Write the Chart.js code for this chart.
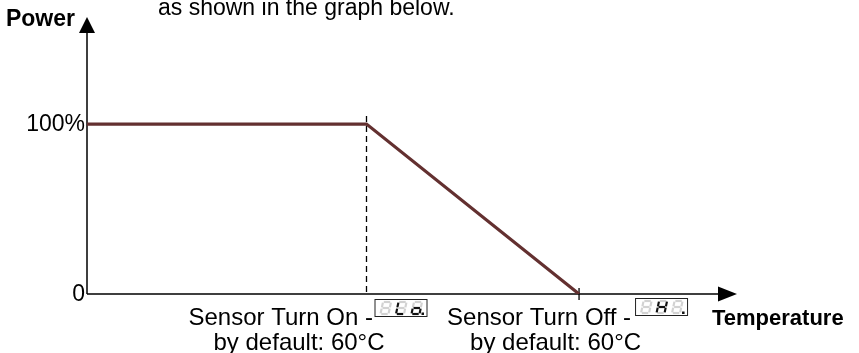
<!DOCTYPE html>
<html>
<head>
<meta charset="utf-8">
<script src="https://cdn.jsdelivr.net/npm/chart.js@4.4.1/dist/chart.umd.min.js"></script>
<style>
  html, body { margin: 0; padding: 0; background: #fff; }
  #wrap { position: relative; width: 859px; height: 353px; }
</style>
</head>
<body>
<div id="wrap"><canvas id="power-chart"></canvas></div>
<script>
// ─── Data ───────────────────────────────────────────────────

const temperature = [0, 43, 75.7];      // position along the temperature axis
const power = [100, 100, 0];            // % output
const yTickValues = [0, 100];
const yTickLabels = ['0', '100%'];
const turnOnAt = 43;
const turnOffAt = 75.7;
const turnOnLabel = ['Sensor Turn On - ', 'by default: 60°C'];
const turnOffLabel = ['Sensor Turn Off - ', 'by default: 60°C'];
const turnOnDisplay = ['', 'def', 'cdeg'];     // lit segments: _ L o
const turnOffDisplay = ['', 'bcefg', ''];      // lit segments: _ H _
const captionText = 'as shown in the graph below.';

const FONT = '"Liberation Sans", Arial, sans-serif';
const INK = '#000';

// ─── Helpers ────────────────────────────────────────────────

function drawDigit(ctx, x, y, lit, dot) {
  const w = 8, h = 12, s = 2.5;
  const P = {
    tl: [x + s, y], tr: [x + w + s, y],
    ml: [x + s / 2, y + h / 2], mr: [x + w + s / 2, y + h / 2],
    bl: [x, y + h], br: [x + w, y + h],
  };
  const segs = {
    a: ['tl', 'tr'], b: ['tr', 'mr'], c: ['mr', 'br'], d: ['bl', 'br'],
    e: ['ml', 'bl'], f: ['tl', 'ml'], g: ['ml', 'mr'],
  };
  ctx.lineCap = 'butt';
  ctx.lineWidth = 2.2;
  Object.entries(segs).forEach(([k, [p, q]]) => {
    const a = P[p], b = P[q];
    const dx = (b[0] - a[0]) * 0.1, dy = (b[1] - a[1]) * 0.1;
    ctx.strokeStyle = lit.includes(k) ? '#111' : '#d2d2d2';
    ctx.beginPath();
    ctx.moveTo(a[0] + dx, a[1] + dy);
    ctx.lineTo(b[0] - dx, b[1] - dy);
    ctx.stroke();
  });
  if (dot) {
    ctx.fillStyle = '#111';
    ctx.fillRect(x + w + 2, y + h - 1.5, 2.5, 2.5);
  }
}

function drawDisplay(ctx, x, y, digits) {
  ctx.strokeStyle = '#222';
  ctx.lineWidth = 1;
  ctx.strokeRect(x + 0.5, y + 0.5, 52, 17);
  digits.forEach((lit, i) => drawDigit(ctx, x + 6 + i * 15.5, y + 3, lit, i === 2));
}

// ─── Custom drawing plugin ──────────────────────────────────

const diagramPlugin = {
  id: 'diagram',
  beforeDatasetsDraw(chart) {
    const { ctx, chartArea, scales: { x, y } } = chart;
    const x0 = x.getPixelForValue(0);
    const y0 = y.getPixelForValue(0);
    ctx.save();

    // axes
    ctx.strokeStyle = '#000';
    ctx.lineWidth = 1.5;
    ctx.beginPath();
    ctx.moveTo(x0, y0);
    ctx.lineTo(x0, chartArea.top + 14);
    ctx.moveTo(x0, y0);
    ctx.lineTo(chartArea.right - 16, y0);
    ctx.stroke();

    // arrow heads
    ctx.fillStyle = '#000';
    ctx.beginPath();
    ctx.moveTo(x0, chartArea.top);
    ctx.lineTo(x0 - 8, chartArea.top + 16);
    ctx.lineTo(x0 + 8, chartArea.top + 16);
    ctx.closePath();
    ctx.fill();
    ctx.beginPath();
    ctx.moveTo(chartArea.right, y0);
    ctx.lineTo(chartArea.right - 19, y0 - 7.5);
    ctx.lineTo(chartArea.right - 19, y0 + 7.5);
    ctx.closePath();
    ctx.fill();

    // dashed marker at turn-on
    const xOn = x.getPixelForValue(turnOnAt);
    ctx.lineWidth = 1.3;
    ctx.setLineDash([6, 4]);
    ctx.beginPath();
    ctx.moveTo(xOn, y.getPixelForValue(100) - 8);
    ctx.lineTo(xOn, y0);
    ctx.stroke();
    ctx.setLineDash([]);

    // tick at turn-off
    const xOff = x.getPixelForValue(turnOffAt);
    ctx.beginPath();
    ctx.moveTo(xOff, y0 - 6);
    ctx.lineTo(xOff, y0 + 6);
    ctx.stroke();
    ctx.restore();
  },
  afterDatasetsDraw(chart) {
    const { ctx, chartArea, scales: { x, y } } = chart;
    const x0 = x.getPixelForValue(0);
    ctx.save();
    ctx.fillStyle = INK;

    // y tick labels
    ctx.font = `23px ${FONT}`;
    ctx.textAlign = 'right';
    ctx.textBaseline = 'middle';
    yTickValues.forEach((v, i) => {
      ctx.fillText(yTickLabels[i], x0 - 2, y.getPixelForValue(v) + 1);
    });

    // axis titles
    ctx.textBaseline = 'alphabetic';
    ctx.font = `bold 23px ${FONT}`;
    ctx.fillText('Power', x0 - 12, 26);
    ctx.textAlign = 'left';
    ctx.font = `bold 22px ${FONT}`;
    ctx.fillText('Temperature', chartArea.right - 25, 325);

    // caption above (cut off in the source)
    ctx.font = `23px ${FONT}`;
    ctx.fillText(captionText, 158, 15);

    // turn on / off labels
    ctx.font = `24px ${FONT}`;
    const xOn = x.getPixelForValue(turnOnAt);
    const xOff = x.getPixelForValue(turnOffAt);
    ctx.fillText(turnOnLabel[0], xOn - 178, 325);
    ctx.fillText(turnOnLabel[1], xOn - 153, 350);
    ctx.fillText(turnOffLabel[0], xOff - 132, 325);
    ctx.fillText(turnOffLabel[1], xOff - 109, 350);

    drawDisplay(ctx, xOn + 8, 299, turnOnDisplay);
    drawDisplay(ctx, xOff + 56, 298, turnOffDisplay);
    ctx.restore();
  },
};

// ─── Chart ──────────────────────────────────────────────────

new Chart(document.getElementById('power-chart'), {
  type: 'line',
  data: {
    datasets: [{
      data: temperature.map((t, i) => ({ x: t, y: power[i] })),
      borderColor: '#633030',
      borderWidth: 3.2,
      pointRadius: 0,
      tension: 0,
      fill: false,
    }],
  },
  options: {
    responsive: true,
    maintainAspectRatio: false,
    animation: false,
    layout: { padding: { left: 87, right: 122, top: 17, bottom: 59 } },
    plugins: { legend: { display: false }, tooltip: { enabled: false } },
    scales: {
      x: { type: 'linear', min: 0, max: 100, display: false },
      y: { min: 0, max: 163, display: false },
    },
  },
  plugins: [diagramPlugin],
});
</script>
</body>
</html>
